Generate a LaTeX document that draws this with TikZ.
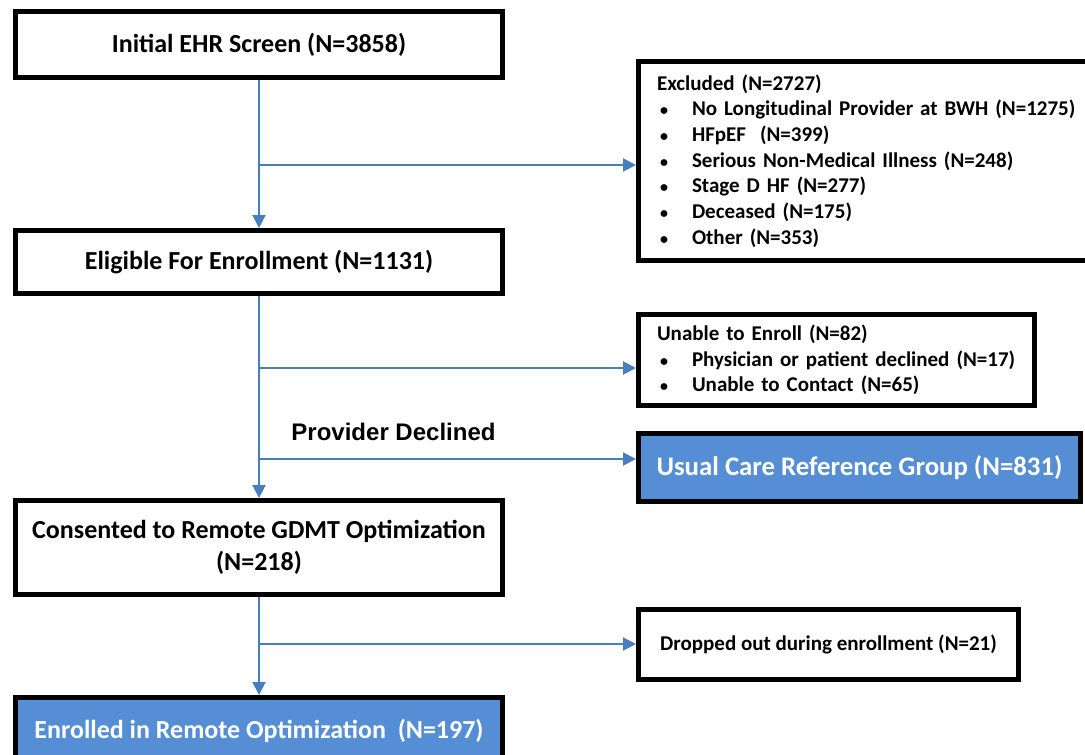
\documentclass[tikz,border=0pt]{standalone}
\usepackage{fontspec}
\setmainfont{Carlito}
\newfontfamily\arialfont{Liberation Sans}
\usetikzlibrary{arrows.meta}

\definecolor{lineblue}{RGB}{72,126,192}
\definecolor{boxblue}{RGB}{85,142,213}

\newcommand{\blt}{\makebox[17.5pt][l]{\hspace{1.5pt}{\fontsize{8}{8}\selectfont\textbullet}}}

\begin{document}
\begin{tikzpicture}[x=0.5pt,y=-0.5pt,
    stagebox/.style={
      draw=black,
      line width=2.5pt,
      fill=white,
      font=\fontsize{13}{16}\selectfont\bfseries,
      minimum width=243.5pt,
      align=center,
      inner sep=0pt
    },
    sidebox/.style={
      draw=black,
      line width=2.5pt,
      fill=white,
      font=\fontsize{10.5}{12.85}\selectfont\bfseries,
      align=left,
      inner xsep=9.25pt,
      inner ysep=0pt
    },
    flow/.style={lineblue,line width=1pt,-{Triangle[length=6.5pt,width=6.5pt]}}]

\useasboundingbox (0,0) rectangle (1085,754);
\clip (0,0) rectangle (1085,754);
\fill[white] (0,0) rectangle (1085,754);

% main column
\node[stagebox, minimum height=33pt] (init) at (259,44.5) {Initial EHR Screen (N=3858)};
\node[stagebox, minimum height=31.5pt] (elig) at (259,262) {Eligible For Enrollment (N=1131)};
\node[stagebox, minimum height=47pt] (cons) at (259,547.5) {Consented to Remote GDMT Optimization\\(N=218)};
\node[stagebox, minimum height=33pt, fill=boxblue, text=white] (enr) at (259,730.5) {Enrolled in Remote Optimization~~(N=197)};

% side boxes
\node[sidebox, anchor=west, text width=220pt, minimum height=99.5pt] (excl) at (636,161) {Excluded (N=2727)\\
\blt No Longitudinal Provider at BWH~(N=1275)\\
\blt HFpEF~~(N=399)\\
\blt Serious Non-Medical Illness (N=248)\\
\blt Stage D HF (N=277)\\
\blt Deceased (N=175)\\
\blt Other (N=353)};
\node[sidebox, text width=179.5pt, minimum height=45.5pt] (unable) at (836.5,360) {Unable to Enroll (N=82)\\
\blt Physician or patient declined (N=17)\\
\blt Unable to Contact (N=65)};
\node[stagebox, minimum width=221pt, minimum height=34pt, fill=boxblue, text=white, font=\fontsize{13.4}{16}\selectfont\bfseries] (usual) at (859.5,467.5) {Usual Care Reference Group (N=831)};
\node[sidebox, align=center, minimum width=190pt, minimum height=35pt] (drop) at (828.5,644.5) {Dropped out during enrollment (N=21)};

% branch points
\coordinate (b1) at (259,165);
\coordinate (b2) at (259,368);
\coordinate (b3) at (259,459);
\coordinate (b4) at (259,644);

\draw[flow] (init) -- (elig);
\draw[flow] (elig) -- (cons);
\draw[flow] (cons) -- (enr);

\draw[flow] (b1) -- (b1 -| excl.west);
\draw[flow] (b2) -- (b2 -| unable.west);
\draw[flow] (b3) -- (b3 -| usual.west);
\draw[flow] (b4) -- (b4 -| drop.west);

\node[font=\arialfont\bfseries\fontsize{12}{14}\selectfont, text=black] (pd) at (393.5,432) {Provider Declined};

\end{tikzpicture}
\end{document}
